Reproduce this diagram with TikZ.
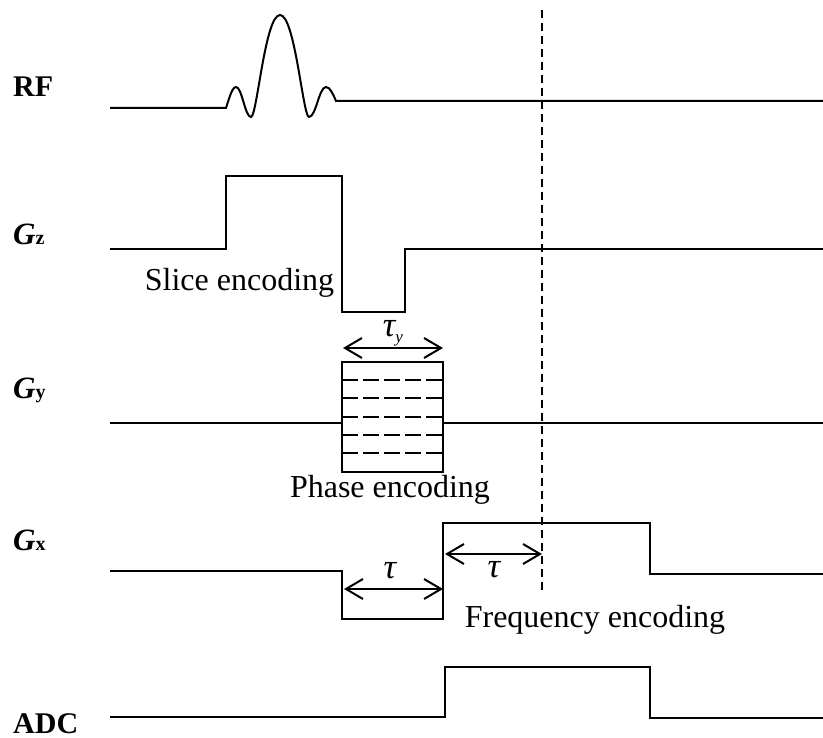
\documentclass[tikz,border=0pt]{standalone}
\usepackage{fontspec}
\setmainfont{Liberation Serif}
\usetikzlibrary{arrows.meta}
\newcommand{\chanG}[1]{{\fontsize{31}{36}\selectfont\itshape G}{\upshape\fontsize{20}{22}\selectfont #1}}
\begin{document}
\begin{tikzpicture}[x=1pt,y=-1pt,line join=miter,
  wave/.style={line width=2pt},
  span/.style={line width=2pt,
    {Straight Barb[length=17pt,width=20pt]}-{Straight Barb[length=17pt,width=20pt]}},
  chan/.style={font=\fontsize{30}{36}\selectfont\bfseries,anchor=base west,inner sep=0pt},
  note/.style={font=\fontsize{32}{38}\selectfont,anchor=base,inner sep=0pt},
  tau/.style={font=\fontsize{35}{40}\selectfont\itshape,anchor=base,inner sep=0pt},
  level/.style={line width=1.6pt,dash pattern=on 15.7pt off 5.3pt},
  marker/.style={line width=1.3pt,dash pattern=on 8pt off 5pt}]
\useasboundingbox (0,0) rectangle (823,738);

% channel labels
\node[chan] (rf)  at (13,97)  {RF};
\node[chan] (gz)  at (13,245) {\chanG{z}};
\node[chan] (gy)  at (13,399) {\chanG{y}};
\node[chan] (gx)  at (13,550) {\chanG{x}};
\node[chan] (adc) at (13,733) {ADC};

% RF: sinc-shaped excitation pulse
\draw[wave] (110,108) -- (226,108)
  .. controls (229,99) and (232,87) .. (236,87)
  .. controls (242,87) and (245,117) .. (251,117)
  .. controls (257,117) and (265,15) .. (280,15)
  .. controls (295,15) and (303,117) .. (309,117)
  .. controls (316,117) and (319,87) .. (326,87)
  .. controls (330,87) and (333,94) .. (336,101)
  -- (823,101);

% Gz: slice-select lobe and its rephasing lobe
\draw[wave] (110,249) -- (226,249) -- (226,176) -- (342,176) -- (342,312)
  -- (405,312) -- (405,249) -- (823,249);

% Gy: phase-encoding table
\draw[wave] (110,423) -- (342,423);
\draw[wave] (342,362) rectangle (443,472);
\draw[wave] (443,423) -- (823,423);
\foreach \yy in {380,398,417,435,453}
  \draw[level] (342,\yy) -- (443,\yy);

% Gx: prephasing lobe and readout lobe
\draw[wave] (110,571) -- (342,571) -- (342,619) -- (443,619) -- (443,523)
  -- (650,523) -- (650,574) -- (823,574);

% ADC window
\draw[wave] (110,717) -- (445,717) -- (445,667) -- (650,667) -- (650,718) -- (823,718);

% echo centre
\coordinate (echoTop) at (542,10);
\coordinate (echoBot) at (542,590);
\draw[marker] (echoTop) -- (echoBot);

% duration markers
\coordinate (tyL) at (343,348);
\coordinate (tyR) at (443,348);
\draw[span] (tyL) -- (tyR);
\coordinate (taL) at (344,589);
\coordinate (taR) at (443,589);
\draw[span] (taL) -- (taR);
\coordinate (tbL) at (445,554);
\coordinate (tbR) at (542,554);
\draw[span] (tbL) -- (tbR);

\node[tau] (tauy) at (393,337) {τ\raisebox{-6pt}{\fontsize{17}{17}\selectfont y}};
\node[tau] (taua) at (390,578) {τ};
\node[tau] (taub) at (494,577) {τ};

% annotations
\node[note] (slice) at (239.5,291) {Slice encoding};
\node[note] (phase) at (390,497) {Phase encoding};
\node[note] (freq)  at (595,627) {Frequency encoding};
\end{tikzpicture}
\end{document}
